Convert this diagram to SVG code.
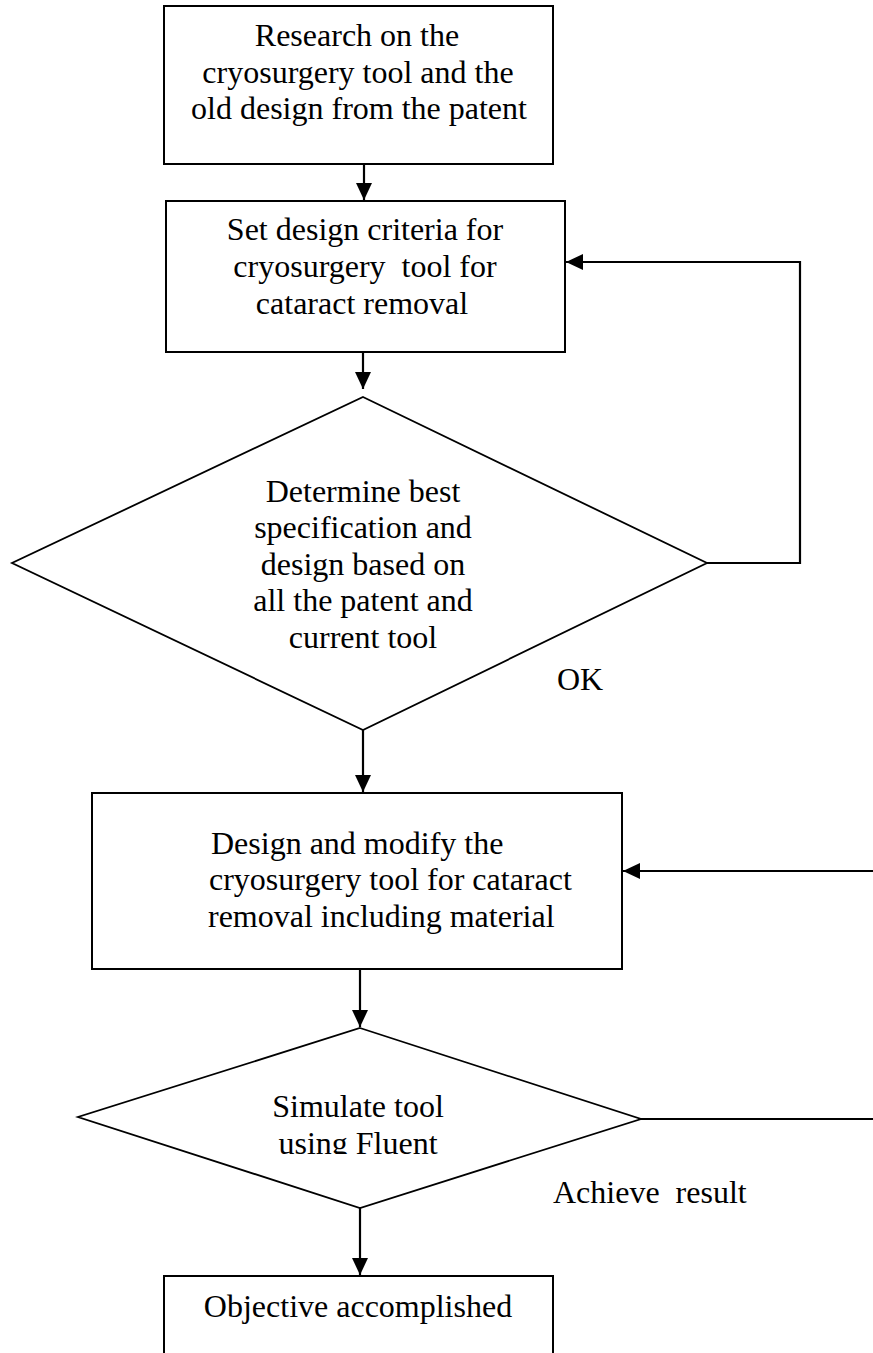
<svg xmlns="http://www.w3.org/2000/svg" width="873" height="1353" viewBox="0 0 873 1353">
<defs>
<style>
.box{fill:#fff;stroke:#000;stroke-width:2}
.dia{fill:#fff;stroke:#000;stroke-width:1.8;stroke-linejoin:miter}
.ln{fill:none;stroke:#000;stroke-width:2.2}
text{font-family:"Liberation Serif","Times New Roman",serif;font-size:32px;fill:#000;white-space:pre}
.c{text-anchor:middle}
</style>
<marker id="ah" markerUnits="userSpaceOnUse" markerWidth="18" markerHeight="16" viewBox="0 0 18 16" refX="17" refY="8" orient="auto">
<path d="M0,0 L17,8 L0,16 Z" fill="#000"/>
</marker>
<clipPath id="clipF"><rect x="0" y="0" width="873" height="1154"/></clipPath>
</defs>
<rect width="873" height="1353" fill="#fff"/>

<g id="n1">
<rect class="box" x="164" y="6" width="389" height="158"/>
<text class="c" x="357" y="46">Research on the</text>
<text class="c" x="358" y="83">cryosurgery tool and the</text>
<text class="c" x="359" y="119">old design from the patent</text>
</g>

<g id="n2">
<rect class="box" x="166" y="201" width="399" height="151"/>
<text class="c" x="365" y="240">Set design criteria for</text>
<text class="c" x="365" y="277">cryosurgery  tool for</text>
<text class="c" x="362" y="314">cataract removal</text>
</g>

<g id="n3">
<polygon class="dia" points="363,397 707,563 363,730 12,563"/>
<text class="c" x="363" y="502">Determine best</text>
<text class="c" x="363" y="538">specification and</text>
<text class="c" x="363" y="575">design based on</text>
<text class="c" x="363" y="611">all the patent and</text>
<text class="c" x="363" y="648">current tool</text>
</g>

<g id="n4">
<rect class="box" x="92" y="793" width="530" height="176"/>
<text x="211" y="854">Design and modify the</text>
<text x="209" y="890">cryosurgery tool for cataract</text>
<text x="208" y="927">removal including material</text>
</g>

<g id="n5">
<polygon class="dia" points="360,1028 641,1119 360,1208 78,1117"/>
<text class="c" x="358" y="1117">Simulate tool</text>
<text class="c" x="358" y="1154" clip-path="url(#clipF)">using Fluent</text>
</g>

<g id="n6">
<rect class="box" x="164" y="1276" width="389" height="90"/>
<text class="c" x="358" y="1317">Objective accomplished</text>
</g>

<g id="labels">
<text x="557" y="690">OK</text>
<text x="553" y="1203">Achieve  result</text>
</g>

<g id="connectors">
<line class="ln" x1="364" y1="164" x2="364" y2="200" marker-end="url(#ah)"/>
<line class="ln" x1="363" y1="352" x2="363" y2="389" marker-end="url(#ah)"/>
<polyline class="ln" points="707,563 800,563 800,262 566,262" marker-end="url(#ah)"/>
<line class="ln" x1="363" y1="730" x2="363" y2="792" marker-end="url(#ah)"/>
<line class="ln" x1="873" y1="871" x2="623" y2="871" marker-end="url(#ah)"/>
<line class="ln" x1="360" y1="969" x2="360" y2="1027" marker-end="url(#ah)"/>
<line class="ln" x1="641" y1="1119" x2="873" y2="1119"/>
<line class="ln" x1="360" y1="1208" x2="360" y2="1275" marker-end="url(#ah)"/>
</g>
</svg>
